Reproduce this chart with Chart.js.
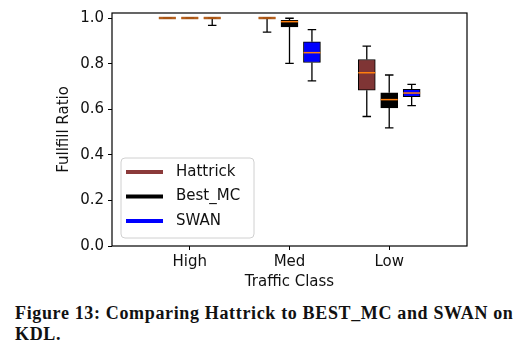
<!DOCTYPE html>
<html>
<head>
<meta charset="utf-8">
<script src="https://cdn.jsdelivr.net/npm/chart.js@4.4.1/dist/chart.umd.min.js"></script>
<style>
  html, body { margin: 0; padding: 0; background: #fff; }
  #wrap { position: relative; width: 521px; height: 300px; }
  #caption {
    position: absolute; left: 15px; top: 303px; width: 506px;
    font-family: 'Liberation Serif', serif; font-weight: bold;
    font-size: 18px; letter-spacing: 0.65px; line-height: 20.5px; color: #111;
  }
</style>
</head>
<body>
<div id="wrap"><canvas id="box-chart"></canvas></div>
<div id="caption">Figure 13: Comparing Hattrick to BEST_MC and SWAN on<br>KDL.</div>
<script>
// ─── DATA ─────────────────────────────────────────────────
const categories = ['High', 'Med', 'Low'];
const seriesNames = ['Hattrick', 'Best_MC', 'SWAN'];
const yTicks = [0.0, 0.2, 0.4, 0.6, 0.8, 1.0];

// five-number summaries per category: [low whisker, q1, median, q3, high whisker]
const hattrick = [
    [1.000, 1.000, 1.000, 1.000, 1.000],
    [0.938, 1.000, 1.000, 1.000, 1.000],
    [0.568, 0.683, 0.760, 0.818, 0.877]
];
const bestMC = [
    [1.000, 1.000, 1.000, 1.000, 1.000],
    [0.801, 0.961, 0.984, 0.990, 0.999],
    [0.518, 0.606, 0.642, 0.672, 0.750]
];
const swan = [
    [0.968, 1.000, 1.000, 1.000, 1.000],
    [0.724, 0.805, 0.848, 0.896, 0.949],
    [0.616, 0.655, 0.671, 0.687, 0.709]
];

const seriesData = [hattrick, bestMC, swan];
const fills = ['#7f3535', '#000000', '#0000ff'];
const legendColors = ['#8b3a3a', '#000000', '#0000ff'];
const offsets = [-0.225, 0, 0.225];
const BOX_W = 17;

// ─── DATASETS (boxes as floating bars) ────────────────────
const datasets = seriesData.map((s, j) => ({
    label: seriesNames[j],
    data: s.map((d, i) => ({ x: i + offsets[j], y: [d[1], d[3]] })),
    backgroundColor: fills[j],
    borderColor: '#000',
    borderWidth: 1,
    borderSkipped: false,
    barThickness: BOX_W,
    grouped: false
}));

// ─── WHISKERS, CAPS, MEDIANS ──────────────────────────────
const boxExtras = {
    id: 'boxExtras',
    afterDatasetsDraw(chart) {
        const { ctx, scales: { x, y } } = chart;
        ctx.save();
        seriesData.forEach((s, j) => {
            s.forEach((d, i) => {
                const cx = x.getPixelForValue(i + offsets[j]);
                const [lo, q1, med, q3, hi] = d.map(v => y.getPixelForValue(v));
                ctx.strokeStyle = '#000';
                ctx.lineWidth = 1.3;
                ctx.beginPath();
                ctx.moveTo(cx, q1); ctx.lineTo(cx, lo);
                ctx.moveTo(cx, q3); ctx.lineTo(cx, hi);
                ctx.moveTo(cx - BOX_W / 4, lo); ctx.lineTo(cx + BOX_W / 4, lo);
                ctx.moveTo(cx - BOX_W / 4, hi); ctx.lineTo(cx + BOX_W / 4, hi);
                ctx.stroke();
                ctx.strokeStyle = '#ff7f0e';
                ctx.lineWidth = 1.5;
                ctx.beginPath();
                ctx.moveTo(cx - BOX_W / 2, med); ctx.lineTo(cx + BOX_W / 2, med);
                ctx.stroke();
                if (q1 === q3) {
                    ctx.strokeStyle = 'rgba(160,80,20,0.8)';
                    ctx.lineWidth = 2.5;
                    ctx.beginPath();
                    ctx.moveTo(cx - BOX_W / 2, med); ctx.lineTo(cx + BOX_W / 2, med);
                    ctx.stroke();
                }
            });
        });
        // frame
        const a = chart.chartArea;
        ctx.strokeStyle = '#000';
        ctx.lineWidth = 1.2;
        ctx.strokeRect(a.left, a.top, a.right - a.left, a.bottom - a.top);
        // legend
        const lx = 121, ly = 158, lw = 133, lh = 80, r = 4;
        ctx.fillStyle = 'rgba(255,255,255,0.85)';
        ctx.strokeStyle = '#d0d0d0';
        ctx.lineWidth = 1;
        ctx.beginPath();
        ctx.roundRect(lx, ly, lw, lh, r);
        ctx.fill();
        ctx.stroke();
        ctx.font = '15px "DejaVu Sans"';
        ctx.textBaseline = 'middle';
        seriesNames.forEach((n, k) => {
            const yy = 172 + k * 24.5;
            ctx.strokeStyle = legendColors[k];
            ctx.lineWidth = 4;
            ctx.beginPath();
            ctx.moveTo(126, yy); ctx.lineTo(163, yy);
            ctx.stroke();
            ctx.fillStyle = '#111';
            ctx.fillText(n, 176, yy);
        });
        ctx.restore();
    }
};

// ─── CHART ────────────────────────────────────────────────
const tickFont = { family: 'DejaVu Sans', size: 15 };
new Chart(document.getElementById('box-chart'), {
    type: 'bar',
    data: { datasets },
    options: {
        responsive: true,
        maintainAspectRatio: false,
        animation: false,
        layout: { padding: { left: 55, right: 54, top: 11, bottom: 0 } },
        plugins: { legend: { display: false }, tooltip: { enabled: false } },
        scales: {
            x: {
                type: 'linear',
                offset: false,
                min: -0.78, max: 2.78,
                afterBuildTicks: s => { s.ticks = categories.map((c, i) => ({ value: i })); },
                afterFit: s => { s.height = 54; },
                grid: { display: true, offset: false, drawOnChartArea: false, tickLength: 4, color: '#000' },
                border: { display: false },
                ticks: {
                    font: tickFont, color: '#111', padding: 3, maxRotation: 0,
                    callback: v => categories[v]
                },
                title: { display: true, text: 'Traffic Class', font: tickFont, color: '#111', padding: { top: 0, bottom: 9 } }
            },
            y: {
                min: 0, max: 1.022,
                afterBuildTicks: s => { s.ticks = yTicks.map(v => ({ value: v })); },
                afterFit: s => { s.width = 57; },
                grid: { display: true, drawOnChartArea: false, tickLength: 4, color: '#000' },
                border: { display: false },
                ticks: { font: tickFont, color: '#111', padding: 4, callback: v => v.toFixed(1) },
                title: { display: true, text: 'Fullfill Ratio', font: tickFont, color: '#111', padding: 0 }
            }
        }
    },
    plugins: [boxExtras]
});
</script>
</body>
</html>
